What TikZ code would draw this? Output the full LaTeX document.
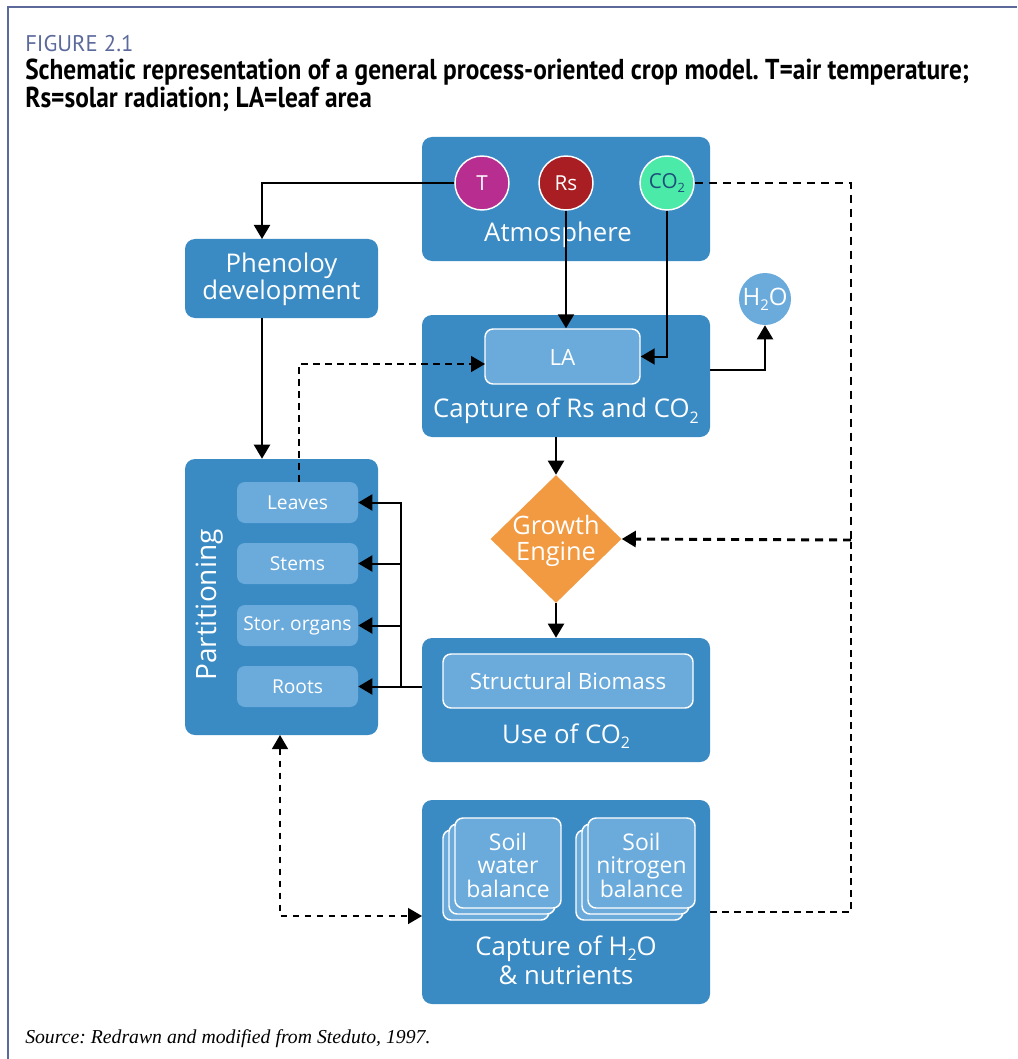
\documentclass[tikz,border=0pt]{standalone}
\usepackage{fontspec}
\setmainfont{Open Sans}
\newfontfamily\titlefont[FakeStretch=0.88]{PT Sans}
\newfontfamily\figfont{PT Sans}
\newfontfamily\srcfont{Liberation Serif}
\usetikzlibrary{arrows.meta,shapes.geometric,fit}

\definecolor{framecol}{HTML}{5B6A9B}
\definecolor{boxblue}{HTML}{3A8AC4}
\definecolor{lightblue}{HTML}{6BABDC}
\definecolor{tcol}{HTML}{B72E90}
\definecolor{rscol}{HTML}{A81E22}
\definecolor{cocol}{HTML}{4BEAA8}
\definecolor{cotext}{HTML}{1E4E7C}
\definecolor{engine}{HTML}{F29A42}

% chemical subscript, set a little lower than \textsubscript
\newcommand\chemsub[1]{\raisebox{-0.4ex}{\scalebox{0.62}{#1}}}

\begin{document}
\frenchspacing
\begin{tikzpicture}[x=0.75pt,y=-0.75pt,
  panel/.style={fill=boxblue, rounded corners=7.5pt, inner sep=0pt, draw=none},
  inbox/.style={fill=lightblue, draw=white, line width=1.1pt, rounded corners=6pt, inner sep=0pt},
  part/.style={fill=lightblue, rounded corners=6pt, inner sep=0pt,
    minimum width=90.75pt, minimum height=30.75pt, text=white,
    font=\fontsize{14.4}{16}\selectfont},
  lbl/.style={text=white, font=\fontsize{19.3}{20.25}\selectfont, align=center, inner sep=0pt},
  inlbl/.style={text=white, font=\fontsize{16.8}{20}\selectfont, align=center, inner sep=0pt},
  smalllbl/.style={text=white, font=\fontsize{17.2}{17.6}\selectfont, align=center, inner sep=0pt},
  var/.style={circle, draw=white, line width=1.1pt, minimum size=40.5pt, inner sep=0pt,
    font=\fontsize{15.5}{18}\selectfont},
  tip/.tip={Triangle[length=10.5pt,width=12pt]},
  flow/.style={line width=1.5pt, -tip},
  feed/.style={line width=2.2pt, dash pattern=on 6pt off 4.5pt},
  thindash/.style={line width=1.1pt, dash pattern=on 5pt off 4pt},
]

\useasboundingbox (0,0) rectangle (1017,1059);
\draw[framecol, line width=2.2pt] (1017,7) -- (8,7) -- (8,1059);

% caption
\node[anchor=base west, inner sep=0pt, text=framecol,
  font=\figfont\fontsize{17}{18}\selectfont] (fig) at (25,52) {FIGURE 2.1};
\node[anchor=base west, inner sep=0pt, font=\titlefont\bfseries\fontsize{21.6}{24}\selectfont]
  (title1) at (25,80) {Schematic representation of a general process-oriented crop model. T=air temperature;};
\node[anchor=base west, inner sep=0pt, font=\titlefont\bfseries\fontsize{21.6}{24}\selectfont]
  (title2) at (25,108) {Rs=solar radiation; LA=leaf area};

% atmosphere
\node[panel, fit={(422,137) (710,261)}] (atm) {};
\node[var, fill=tcol, text=white] (T) at (482,183) {T};
\node[var, fill=rscol, text=white] (Rs) at (566,183) {Rs};
\node[var, fill=cocol, text=cotext] (CO2) at (667,183) {CO\chemsub{2}};
\node[lbl] (atmlbl) at (558,235) {Atmosphere};

% phenology
\node[panel, fit={(185,239) (378,318)}] (phen) {};
\node[lbl] (phenlbl) at (281.5,279) {Phenoloy\\development};

% capture of radiation and CO2
\node[panel, fit={(422,315) (710,437)}] (caprs) {};
\node[inbox, fit={(485,329) (640,384)}] (la) {};
\node[inlbl] (lalbl) at (562.5,357) {LA};
\node[lbl] (caprslbl) at (566,411) {Capture of Rs and CO\chemsub{2}};
\node[circle, fill=lightblue, minimum size=39pt, inner sep=0pt, text=white,
  font=\fontsize{18}{18}\selectfont] (h2o) at (765,299) {H\chemsub{2}O};

% growth engine
\node[diamond, fill=engine, minimum width=98.25pt, minimum height=96pt, inner sep=0pt] (eng) at (556,539) {};
\node[lbl, font=\fontsize{19}{20}\selectfont] (englbl) at (556,541) {Growth\\Engine};

% use of CO2
\node[panel, fit={(422,638) (710,762)}] (use) {};
\node[inbox, fit={(443,654) (693,708)}] (bio) {};
\node[inlbl] (biolbl) at (568,681) {Structural Biomass};
\node[lbl] (uselbl) at (566,736) {Use of CO\chemsub{2}};

% partitioning
\node[panel, fit={(185,459) (378,735)}] (part) {};
\node[lbl, rotate=90, font=\fontsize{21}{22}\selectfont] (partlbl) at (210,605) {Partitioning};
\node[part] (leaves) at (297.5,502.5) {Leaves};
\node[part] (stems) at (297.5,563.5) {Stems};
\node[part] (stor) at (297.5,625.5) {Stor. organs};
\node[part] (roots) at (297.5,686.5) {Roots};

% capture of water and nutrients
\node[panel, fit={(422,800) (710,1004)}] (soil) {};
\node[inbox, fit={(443,830) (549,920)}] (wat3) {};
\node[inbox, fit={(449,824) (555,914)}] (wat2) {};
\node[inbox, fit={(455,818) (561,908)}] (wat1) {};
\node[inbox, fit={(576,830) (683,920)}] (nit3) {};
\node[inbox, fit={(582,824) (689,914)}] (nit2) {};
\node[inbox, fit={(588,818) (695,908)}] (nit1) {};
\node[smalllbl] (watlbl) at (508,865) {Soil\\water\\balance};
\node[smalllbl] (nitlbl) at (641.5,865) {Soil\\nitrogen\\balance};
\node[lbl, anchor=base] (soillbl1) at (566,955) {Capture of H\chemsub{2}O};
\node[lbl, anchor=base] (soillbl2) at (566,984) {\& nutrients};

% source
\node[anchor=base west, inner sep=0pt, font=\srcfont\itshape\fontsize{14.8}{16}\selectfont]
  (src) at (25,1043) {Source: Redrawn and modified from Steduto, 1997.};

% junction points of the connectors
\coordinate (phenin) at (262,239);
\coordinate (phenout) at (262,318);
\coordinate (capout) at (710,370);
\coordinate (lvout) at (299,482);
\coordinate (lain) at (485,364);
\coordinate (bus) at (401,686);
\coordinate (fbtop) at (851,183);
\coordinate (fbmid) at (851,540);
\coordinate (fbbot) at (851,912);
\coordinate (soilout) at (710,912);
\coordinate (partbot) at (280,735);
\coordinate (soilin) at (422,916);

% solid flows
\draw[flow] (T.west) -| (phenin);
\draw[flow] (Rs.south) -- (Rs.south |- la.north);
\draw[flow] (CO2.south) |- (la.east);
\draw[flow] (capout) -| (h2o.south);
\draw[flow] (eng.north |- caprs.south) -- (eng.north);
\draw[flow] (eng.south) -- (eng.south |- use.north);
\draw[flow] (phenout) -- (phenout |- part.north);
\draw[flow] (use.west |- roots.east) -- (roots.east);
\draw[flow] (bus) |- (leaves.east);
\draw[flow] (bus |- stems.east) -- (stems.east);
\draw[flow] (bus |- stor.east) -- (stor.east);

% dashed feedbacks
\draw[feed] (CO2.east) -- (fbtop) -- (fbmid);
\draw[feed, -tip] (fbmid) -- (eng.east);
\draw[thindash] (soilout) -- (fbbot) -- (fbmid);
\draw[thindash, -tip] (lvout) |- (lain);
\draw[thindash, tip-tip] (partbot) |- (soilin);
\end{tikzpicture}
\end{document}
